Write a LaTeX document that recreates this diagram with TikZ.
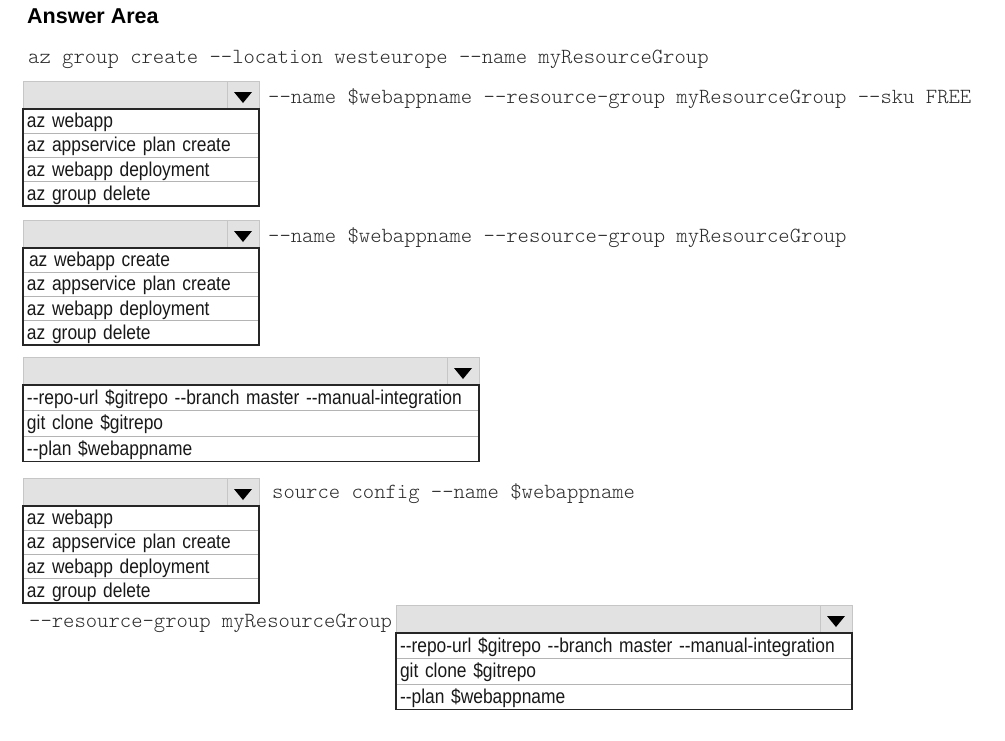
\documentclass[tikz,border=0pt]{standalone}
\usepackage{fontspec}
\newfontfamily\listfont{Liberation Sans}[Ligatures=TeXOff, FakeStretch=0.87, WordSpace=0.75]
\newfontfamily\titlefont{Liberation Sans}[Ligatures=TeXOff]
\newfontfamily\codefont{lmmonolt10-regular}[Extension=.otf, Ligatures=TeXOff]
\usetikzlibrary{positioning}
\definecolor{hdrgray}{HTML}{E2E2E2}
\definecolor{hdrline}{HTML}{C6C6C6}
\definecolor{rowgray}{HTML}{B4B4B4}
\definecolor{codegray}{HTML}{2B2B2B}
\tikzset{
    header/.style = {draw=hdrline, fill=hdrgray, minimum height=28pt, inner sep=0pt, outer sep=0pt, anchor=north west},
    arrowcell/.style = {draw=hdrline, fill=hdrgray, minimum width=32pt, minimum height=28pt, inner sep=0pt, outer sep=0pt, anchor=north east},
    item/.style = {anchor=north west, inner xsep=4pt, inner ysep=0pt, outer sep=0pt, text height=15pt, text depth=2pt, align=left, text=black!90, font=\listfont\fontsize{20}{22}\selectfont},
    code/.style = {anchor=base west, inner sep=0pt, text=codegray, font=\codefont\fontsize{21.6}{24}\selectfont}}

\begin{document}
\begin{tikzpicture}[x=1pt, y=-1pt,
    narrowitem/.style = {item, text width=228pt, minimum height=24.25pt},
    wideitem/.style = {item, text width=448pt, minimum height=25.5pt},
    rowline/.style = {draw=rowgray, line width=0.6pt},
    listframe/.style = {draw=black!85, line width=1.2pt}]
    \fill[white] (0,0) rectangle (1005,740);
    \useasboundingbox (0,0) rectangle (1005,740);
    % title and fixed commands
    \node[anchor=base west, inner sep=0pt, font=\titlefont\bfseries\fontsize{21.5}{24}\selectfont] (title) at (27,23) {Answer Area};
    \node[code] (cmd1) at (28,63) {az group create --location westeurope --name myResourceGroup};
    % dropdown 1
    \node[header, minimum width=236pt] (h1) at (23,81) {};
    \node[arrowcell] (a1) at (h1.north east) {};
    \node[narrowitem] (d1i1) at (h1.south west) {az webapp};
    \node[narrowitem, below=0pt of d1i1] (d1i2) {az appservice plan create};
    \node[narrowitem, below=0pt of d1i2] (d1i3) {az webapp deployment};
    \node[narrowitem, below=0pt of d1i3] (d1i4) {az group delete};
    \node[code] (d1tail) at (268,103) {--name \$webappname --resource-group myResourceGroup --sku FREE};
    % dropdown 2
    \node[header, minimum width=236pt] (h2) at (23,220) {};
    \node[arrowcell] (a2) at (h2.north east) {};
    \node[narrowitem] (d2i1) at (h2.south west) {\hspace{2pt}az webapp create};
    \node[narrowitem, below=0pt of d2i1] (d2i2) {az appservice plan create};
    \node[narrowitem, below=0pt of d2i2] (d2i3) {az webapp deployment};
    \node[narrowitem, below=0pt of d2i3] (d2i4) {az group delete};
    \node[code] (d2tail) at (268,242) {--name \$webappname --resource-group myResourceGroup};
    % dropdown 3
    \node[header, minimum width=456pt] (h3) at (23,357) {};
    \node[arrowcell] (a3) at (h3.north east) {};
    \node[wideitem] (d3i1) at (h3.south west) {--repo-url \$gitrepo --branch master --manual-integration};
    \node[wideitem, below=0pt of d3i1] (d3i2) {git clone \$gitrepo};
    \node[wideitem, below=0pt of d3i2] (d3i3) {--plan \$webappname};
    % dropdown 4
    \node[header, minimum width=236pt] (h4) at (23,478) {};
    \node[arrowcell] (a4) at (h4.north east) {};
    \node[narrowitem] (d4i1) at (h4.south west) {az webapp};
    \node[narrowitem, below=0pt of d4i1] (d4i2) {az appservice plan create};
    \node[narrowitem, below=0pt of d4i2] (d4i3) {az webapp deployment};
    \node[narrowitem, below=0pt of d4i3] (d4i4) {az group delete};
    \node[code] (d4tail) at (272,498) {source config --name \$webappname};
    % dropdown 5
    \node[code] (cmd2) at (29,627) {--resource-group myResourceGroup};
    \node[header, minimum width=456pt] (h5) at (396,605) {};
    \node[arrowcell] (a5) at (h5.north east) {};
    \node[wideitem] (d5i1) at (h5.south west) {--repo-url \$gitrepo --branch master --manual-integration};
    \node[wideitem, below=0pt of d5i1] (d5i2) {git clone \$gitrepo};
    \node[wideitem, below=0pt of d5i2] (d5i3) {--plan \$webappname};
    % arrows, row lines, frames
    \foreach \a in {a1,a2,a3,a4,a5}
        \fill[black] ([shift={(-9,-3)}]\a.center) -- ([shift={(9,-3)}]\a.center) -- ([shift={(0,8)}]\a.center) -- cycle;
    \foreach \r in {d1i1,d1i2,d1i3,d2i1,d2i2,d2i3,d3i1,d3i2,d4i1,d4i2,d4i3,d5i1,d5i2}
        \draw[rowline] (\r.south west) -- (\r.south east);
    \draw[listframe] (d1i1.north west) rectangle (d1i4.south east);
    \draw[listframe] (d2i1.north west) rectangle (d2i4.south east);
    \draw[listframe] (d3i1.north west) rectangle (d3i3.south east);
    \draw[listframe] (d4i1.north west) rectangle (d4i4.south east);
    \draw[listframe] (d5i1.north west) rectangle (d5i3.south east);
\end{tikzpicture}
\end{document}
